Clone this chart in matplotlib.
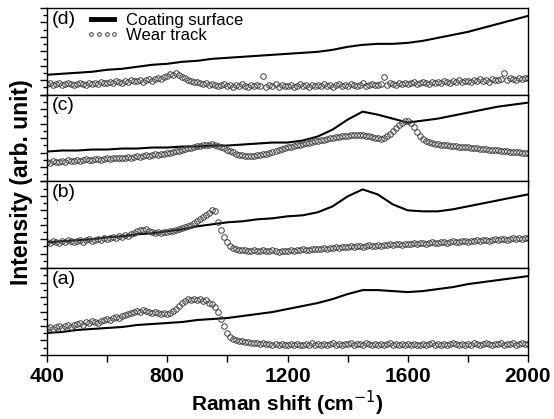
import numpy as np
import matplotlib
matplotlib.use("Agg")
import matplotlib.pyplot as plt
from matplotlib.ticker import MultipleLocator, NullFormatter

plt.rcParams['font.family'] = ['Liberation Sans', 'DejaVu Sans']

# Raman shift grids (cm^-1)
shift_fine = np.arange(400, 2001, 10)      # wear track spectra
shift_coarse = [400, 450, 500, 550, 600, 650, 700, 750, 800, 850, 900, 950,
                1000, 1050, 1100, 1150, 1200, 1250, 1300, 1350, 1400, 1450,
                1500, 1550, 1600, 1650, 1700, 1750, 1800, 1850, 1900, 1950, 2000]

panel_labels = ['(a)', '(b)', '(c)', '(d)']
series_names = ['Coating surface', 'Wear track']
xtick_labels = ['400', '800', '1200', '1600', '2000']

# coating surface (solid lines), arb. units, read at shift_coarse
coat_a = [22, 23, 25, 26, 27, 28, 30, 31, 32, 33, 35, 36, 37, 39, 41, 43, 46, 49,
          52, 56, 61, 65, 65, 64, 63, 64, 66, 68, 71, 73, 75, 77, 79]
coat_b = [26, 27, 28, 29, 31, 32, 34, 35, 37, 39, 42, 44, 46, 47, 49, 50, 52, 53,
          56, 62, 72, 79, 74, 64, 58, 57, 57, 59, 62, 65, 68, 71, 74]
coat_c = [30, 31, 31, 32, 32, 33, 33, 34, 34, 35, 35, 36, 36, 37, 38, 39, 39, 41,
          45, 52, 62, 70, 67, 63, 59, 61, 63, 66, 69, 72, 75, 77, 79]
coat_d = [20, 21, 22, 23, 25, 26, 28, 30, 31, 33, 34, 36, 37, 38, 39, 40, 41, 42,
          43, 45, 48, 50, 51, 51, 52, 54, 57, 60, 63, 67, 71, 75, 79]

# wear track (open circles), arb. units, read at shift_fine
wear_a = [27, 28, 26, 28, 29, 27, 29, 30, 28, 30,
          31, 32, 30, 33, 32, 34, 33, 32, 34, 35,
          36, 35, 37, 38, 37, 39, 40, 41, 42, 43,
          44, 43, 45, 44, 43, 42, 43, 42, 41, 42,
          41, 42, 44, 46, 49, 52, 54, 56, 55, 56,
          55, 56, 54, 55, 52, 51, 48, 43, 36, 29,
          22, 18, 16, 15, 14, 14, 13, 13, 12, 12,
          12, 11, 12, 11, 11, 10, 11, 10, 11, 10,
          10, 11, 10, 11, 10, 10, 11, 10, 12, 10,
          11, 10, 11, 10, 11, 12, 10, 11, 10, 11,
          11, 12, 10, 11, 11, 10, 12, 11, 10, 11,
          10, 11, 10, 11, 12, 10, 11, 10, 11, 10,
          11, 10, 11, 10, 10, 11, 10, 11, 12, 10,
          11, 10, 11, 10, 11, 12, 11, 10, 11, 10,
          11, 10, 12, 11, 10, 11, 12, 11, 10, 11,
          11, 12, 10, 11, 11, 12, 10, 11, 12, 11,
          11]
wear_b = [26, 25, 27, 26, 25, 27, 26, 28, 27, 26,
          27, 28, 26, 28, 29, 27, 28, 29, 28, 30,
          29, 30, 31, 30, 32, 31, 33, 32, 34, 35,
          37, 38, 38, 39, 37, 36, 35, 36, 35, 36,
          36, 37, 37, 38, 39, 40, 41, 42, 43, 45,
          47, 49, 51, 53, 55, 58, 57, 46, 38, 31,
          26, 22, 20, 19, 18, 18, 18, 17, 17, 18,
          17, 17, 18, 17, 17, 18, 17, 16, 17, 17,
          17, 18, 17, 18, 18, 19, 18, 18, 19, 19,
          19, 19, 20, 19, 20, 20, 21, 20, 21, 21,
          21, 22, 21, 22, 22, 21, 22, 23, 22, 22,
          23, 22, 23, 23, 24, 23, 24, 24, 23, 24,
          24, 24, 25, 24, 25, 25, 24, 25, 26, 25,
          25, 26, 26, 25, 26, 27, 26, 26, 27, 27,
          26, 27, 27, 28, 27, 28, 28, 27, 28, 29,
          28, 29, 29, 28, 29, 30, 29, 30, 29, 30,
          30]
wear_c = [19, 18, 20, 19, 19, 20, 19, 21, 20, 20,
          21, 20, 21, 22, 21, 21, 22, 22, 21, 22,
          23, 22, 23, 24, 23, 24, 24, 25, 24, 25,
          26, 25, 26, 27, 26, 27, 28, 27, 28, 28,
          29, 29, 30, 31, 31, 32, 33, 34, 34, 35,
          36, 36, 37, 37, 37, 38, 37, 36, 35, 34,
          32, 31, 30, 28, 27, 27, 26, 26, 26, 26,
          27, 27, 28, 28, 29, 30, 31, 32, 33, 34,
          35, 35, 36, 37, 37, 38, 39, 39, 40, 41,
          41, 42, 42, 43, 44, 44, 45, 45, 46, 46,
          46, 47, 47, 47, 47, 47, 46, 46, 45, 44,
          44, 43, 44, 46, 48, 51, 54, 57, 59, 61,
          61, 59, 55, 50, 46, 43, 41, 40, 39, 38,
          38, 37, 37, 37, 36, 36, 36, 35, 35, 35,
          35, 34, 34, 34, 33, 33, 33, 32, 32, 32,
          32, 31, 31, 31, 30, 30, 30, 30, 29, 29,
          29]
wear_d = [11, 12, 10, 11, 12, 10, 11, 12, 11, 10,
          11, 12, 11, 10, 12, 11, 12, 11, 13, 12,
          12, 13, 12, 14, 13, 12, 14, 13, 15, 14,
          14, 15, 13, 15, 16, 14, 16, 17, 16, 18,
          19, 21, 20, 22, 20, 18, 17, 15, 14, 13,
          13, 12, 11, 12, 10, 11, 10, 9, 10, 11,
          9, 10, 8, 10, 9, 11, 9, 8, 10, 9,
          10, 9, 19, 8, 10, 9, 11, 8, 10, 9,
          9, 10, 8, 9, 11, 9, 10, 8, 10, 9,
          10, 9, 11, 9, 10, 8, 10, 11, 9, 10,
          9, 11, 10, 9, 10, 12, 9, 10, 11, 10,
          10, 11, 18, 10, 12, 11, 10, 12, 11, 12,
          11, 12, 13, 11, 12, 13, 12, 11, 13, 12,
          13, 12, 14, 13, 12, 14, 13, 15, 13, 14,
          14, 13, 15, 14, 16, 14, 15, 13, 16, 15,
          15, 16, 22, 15, 17, 16, 15, 17, 16, 17,
          17]

coats = [coat_a, coat_b, coat_c, coat_d]
wears = [wear_a, wear_b, wear_c, wear_d]

fig, axes = plt.subplots(4, 1, sharex=True, figsize=(5.54, 4.19), dpi=100)
fig.subplots_adjust(left=0.085, right=0.953, top=0.981, bottom=0.153, hspace=0)

# top panel is (d), bottom panel is (a)
for i, ax in enumerate(axes[::-1]):
    l1, = ax.plot(shift_coarse, coats[i], color='black', lw=1.5)
    l2, = ax.plot(shift_fine, wears[i], ls='none', marker='o', ms=4.0,
                  mfc='none', mec='#404040', mew=0.7)
    ax.set_xlim(400, 2000)
    ax.set_ylim(0, 87)
    ax.text(0.01, 0.97, panel_labels[i], transform=ax.transAxes,
            ha='left', va='top', fontsize=14)
    ax.yaxis.set_major_locator(MultipleLocator(14.5))
    ax.yaxis.set_minor_locator(MultipleLocator(7.25))
    ax.yaxis.set_major_formatter(NullFormatter())
    ax.tick_params(axis='y', which='major', direction='out', length=5, width=1)
    ax.tick_params(axis='y', which='minor', direction='out', length=3, width=1)
    ax.tick_params(axis='x', which='both', direction='out', length=5, width=1)
    for s in ax.spines.values():
        s.set_linewidth(1.0)
    if i == 3:
        leg = ax.legend([l1, l2], series_names, loc='upper left',
                        bbox_to_anchor=(0.05, 1.12), frameon=False,
                        fontsize=12, handlelength=2.0, handletextpad=0.4,
                        labelspacing=0.0, numpoints=4, markerscale=0.65)
        leg.get_lines()[0].set_linewidth(3.5)

axes[-1].xaxis.set_minor_locator(MultipleLocator(200))
axes[-1].set_xticks([400, 800, 1200, 1600, 2000])
axes[-1].set_xticklabels(xtick_labels, fontsize=15, fontweight='bold')
axes[-1].set_xlabel('Raman shift (cm$^{-1}$)', fontsize=15, fontweight='bold',
                    labelpad=2)
fig.text(0.038, 0.565, 'Intensity (arb. unit)', rotation=90, ha='center',
         va='center', fontsize=16.5, fontweight='bold')

fig.savefig('out.png', dpi=100)
